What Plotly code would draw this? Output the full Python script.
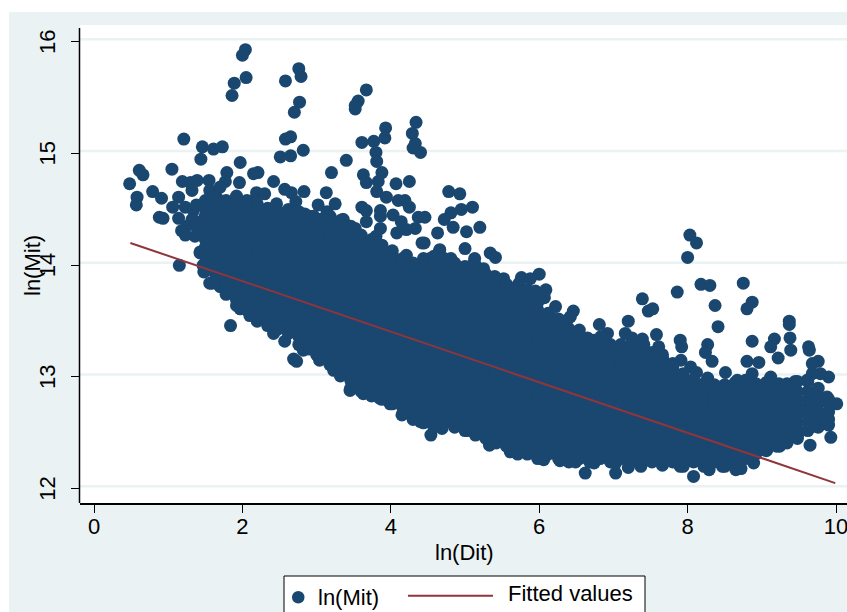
import plotly.graph_objects as go

# Scattered points
outlier_x = [2.04,2.00,1.89,2.05,1.86,2.58,2.76,2.79,2.77,2.70,3.67,3.56,3.52,3.52,4.34,3.93,4.29,3.92,3.77,3.61,4.33,4.30,4.40,3.80,3.81,3.40,
 1.21,1.46,1.61,1.73,1.44,1.97,2.58,2.65,2.82,2.51,2.65,0.48,0.61,0.66,0.58,0.57,0.79,0.91,1.05,0.88,0.93,1.19,1.30,1.39,1.55,1.79,1.96,2.15,2.21,2.42,3.20,
 2.57,2.66,2.83,2.72,3.13,3.63,3.88,3.67,3.83,4.07,4.25,3.81,3.94,4.10,4.19,4.25,3.61,3.67,3.86,3.86,4.03,4.37,3.67,3.52,3.86,3.80,4.14,4.33,4.42,3.54,4.21,3.83,3.25,3.02,3.14,3.36,3.16,
 1.15,1.14,1.06,1.14,1.25,1.18,1.23,1.36,1.43,1.32,1.23,1.48,1.59,1.70,1.47,1.88,1.84,2.69,2.73,4.15,4.40,
 4.78,4.93,5.10,4.95,4.81,4.72,4.84,4.46,5.02,5.20,4.63,5.00,4.45,4.66,4.53,5.34,5.41,5.13,4.81,6.00,5.76,5.88,5.52,5.40,6.09,5.95,6.07,5.81,6.22,5.85,6.46,6.18,6.00,6.81,6.92,6.74,7.20,7.16,7.39,7.47,7.53,7.39,7.58,7.61,7.68,
 8.03,8.12,8.00,7.86,8.18,8.30,8.75,8.87,8.80,8.37,8.41,7.90,7.92,8.27,8.24,8.33,7.91,8.04,8.12,8.51,8.87,9.17,9.12,9.22,8.80,8.96,9.37,9.37,9.38,9.39,9.63,9.64,9.76,9.68,9.90,9.45,10.01,9.89,9.90,9.93,9.65,9.24,
 6.62,7.03,8.08,5.33,5.61,5.71,6.06,6.28,6.49,6.74,7.20,7.37,7.66,8.29,8.65,8.72,4.54,4.69]
outlier_y = [15.93,15.88,15.63,15.68,15.52,15.65,15.76,15.69,15.46,15.37,15.57,15.47,15.43,15.40,15.28,15.23,15.18,15.14,15.11,15.10,15.09,15.05,15.01,15.01,14.93,14.94,
 15.13,15.06,15.04,15.06,14.95,14.92,15.13,15.15,15.03,14.97,14.98,14.73,14.85,14.81,14.61,14.54,14.66,14.60,14.86,14.43,14.42,14.75,14.74,14.76,14.76,14.83,14.74,14.82,14.83,14.75,14.83,
 14.68,14.65,14.66,14.57,14.65,14.81,14.83,14.74,14.75,14.73,14.75,14.66,14.61,14.58,14.58,14.52,14.52,14.49,14.49,14.44,14.45,14.43,14.39,14.33,14.33,14.26,14.39,14.33,14.20,14.21,14.09,14.15,14.55,14.54,14.48,14.41,14.38,
 14.00,14.61,14.52,14.42,14.35,14.31,14.27,14.26,14.12,14.67,14.52,13.94,13.84,13.81,14.00,13.87,13.46,13.16,13.14,12.66,12.60,
 14.66,14.64,14.52,14.50,14.47,14.41,14.34,14.43,14.30,14.34,14.29,14.15,14.20,14.14,14.06,14.11,14.07,14.06,14.06,13.92,13.89,13.88,13.88,13.90,13.78,13.77,13.71,13.70,13.63,13.53,13.59,13.52,13.44,13.47,13.39,13.33,13.50,13.39,13.70,13.59,13.61,13.34,13.38,13.27,13.14,
 14.27,14.20,14.07,13.76,13.83,13.82,13.84,13.67,13.61,13.64,13.45,13.33,13.27,13.29,13.22,13.14,13.15,13.09,13.04,13.04,13.32,13.34,13.27,13.17,13.14,13.13,13.50,13.47,13.35,13.24,13.27,13.24,13.14,13.12,13.00,12.96,12.76,12.67,12.57,12.46,12.39,12.38,
 12.14,12.14,12.11,12.39,12.33,12.31,12.26,12.25,12.24,12.23,12.19,12.20,12.21,12.17,12.17,12.18,12.48,12.54]

# Points along the rough edge of the dense band
edge_x = [1.56,1.65,1.90,1.77,1.70,2.19,2.30,2.15,2.46,2.54,2.73,2.84,2.96,3.05,3.23,3.35,1.38,1.52,1.43,1.61,1.34,1.38,1.52,1.43,1.32,1.52,
 3.67,4.08,4.21,4.15,4.39,4.65,4.90,5.01,5.12,5.25,5.23,5.44,5.17,5.57,5.66,5.73,5.59,5.70,5.79,6.02,6.09,6.15,6.24,6.38,6.42,6.54,6.65,6.83,6.89,6.96,7.14,7.25,7.41,7.59,7.79,7.93,8.27,8.35,8.67,8.87,9.12,9.23,9.79,9.68,9.61,9.88,9.70,9.48,9.16,
 5.03,5.19,5.48,5.91,7.03,7.90,8.47,8.89,9.07,
 1.56,1.70,1.92,1.97,2.10,2.30,2.42,2.57,2.82,3.00,3.23,3.45,3.63,3.85,3.99,4.26]
edge_y = [14.67,14.61,14.58,14.75,14.70,14.65,14.64,14.58,14.55,14.46,14.45,14.46,14.44,14.41,14.38,14.41,14.54,14.58,14.39,14.46,14.49,14.35,14.23,14.11,14.41,14.32,
 14.11,14.29,14.32,14.05,13.99,14.12,13.94,13.90,14.02,13.97,13.88,13.87,13.73,13.62,13.75,13.84,13.57,13.59,13.48,13.45,13.51,13.39,13.30,13.51,13.54,13.42,13.35,13.36,13.23,13.23,13.20,13.35,13.29,13.18,12.97,12.93,12.99,12.91,12.97,13.03,13.00,12.94,13.03,13.03,12.97,12.82,12.56,12.47,12.40,
 12.52,12.50,12.44,12.32,12.23,12.20,12.20,12.23,12.35,
 13.84,13.81,13.69,13.61,13.55,13.58,13.39,13.32,13.24,13.20,13.06,12.88,12.85,12.81,12.76,12.67]

# Dense band
band_x = [1.50,1.64,1.78,1.92,2.06,2.20,2.34,2.48,2.62,2.76,2.90,3.04,3.18,3.32,3.46,3.60,3.74,3.88,4.02,4.16,4.30,4.44,4.58,4.72,4.86,5.00,5.14,5.28,5.42,5.56,5.70,5.84,5.98,6.12,6.26,6.40,6.54,6.68,6.82,6.96,7.10,7.24,7.38,7.52,7.66,7.80,7.94,8.08,8.22,8.36,8.50,8.64,8.78,8.92,9.06,9.20,9.34,9.48,9.62,9.76,9.90]
band_y = [
 [13.95,14.02,14.09,14.16,14.23,14.30,14.37,14.44,14.51,14.58],
 [13.85,13.92,13.99,14.06,14.13,14.20,14.27,14.34,14.41,14.48,14.55,14.60],
 [13.74,13.81,13.88,13.95,14.02,14.09,14.16,14.23,14.30,14.37,14.44,14.51,14.58],
 [13.64,13.71,13.78,13.85,13.92,13.99,14.06,14.13,14.20,14.27,14.34,14.41,14.48,14.55,14.62],
 [13.60,13.67,13.74,13.81,13.88,13.95,14.02,14.09,14.16,14.23,14.30,14.37,14.44,14.51,14.58],
 [13.50,13.57,13.64,13.71,13.78,13.85,13.92,13.99,14.06,14.13,14.20,14.27,14.34,14.41,14.48,14.55],
 [13.46,13.53,13.60,13.67,13.74,13.81,13.88,13.95,14.02,14.09,14.16,14.23,14.30,14.37,14.44,14.51],
 [13.43,13.50,13.57,13.64,13.71,13.78,13.85,13.92,13.99,14.06,14.13,14.20,14.27,14.34,14.41,14.48],
 [13.39,13.46,13.53,13.60,13.67,13.74,13.81,13.88,13.95,14.02,14.09,14.16,14.23,14.30,14.37,14.44,14.50],
 [13.29,13.36,13.43,13.50,13.57,13.64,13.71,13.78,13.85,13.92,13.99,14.06,14.13,14.20,14.27,14.34,14.41,14.48],
 [13.25,13.32,13.39,13.46,13.53,13.60,13.67,13.74,13.81,13.88,13.95,14.02,14.09,14.16,14.23,14.30,14.37,14.44],
 [13.15,13.22,13.29,13.36,13.43,13.50,13.57,13.64,13.71,13.78,13.85,13.92,13.99,14.06,14.13,14.20,14.27,14.34,14.41],
 [13.11,13.18,13.25,13.32,13.39,13.46,13.53,13.60,13.67,13.74,13.81,13.88,13.95,14.02,14.09,14.16,14.23,14.30,14.37,14.44],
 [13.01,13.08,13.15,13.22,13.29,13.36,13.43,13.50,13.57,13.64,13.71,13.78,13.85,13.92,13.99,14.06,14.13,14.20,14.27,14.34,14.40],
 [12.90,12.97,13.04,13.11,13.18,13.25,13.32,13.39,13.46,13.53,13.60,13.67,13.74,13.81,13.88,13.95,14.02,14.09,14.16,14.23,14.30,14.35],
 [12.87,12.94,13.01,13.08,13.15,13.22,13.29,13.36,13.43,13.50,13.57,13.64,13.71,13.78,13.85,13.92,13.99,14.06,14.13,14.20,14.27],
 [12.83,12.90,12.97,13.04,13.11,13.18,13.25,13.32,13.39,13.46,13.53,13.60,13.67,13.74,13.81,13.88,13.95,14.02,14.09,14.16,14.23],
 [12.80,12.87,12.94,13.01,13.08,13.15,13.22,13.29,13.36,13.43,13.50,13.57,13.64,13.71,13.78,13.85,13.92,13.99,14.06,14.13,14.18],
 [12.76,12.83,12.90,12.97,13.04,13.11,13.18,13.25,13.32,13.39,13.46,13.53,13.60,13.67,13.74,13.81,13.88,13.95,14.02,14.09,14.13],
 [12.73,12.80,12.87,12.94,13.01,13.08,13.15,13.22,13.29,13.36,13.43,13.50,13.57,13.64,13.71,13.78,13.85,13.92,13.99,14.06],
 [12.62,12.69,12.76,12.83,12.90,12.97,13.04,13.11,13.18,13.25,13.32,13.39,13.46,13.53,13.60,13.67,13.74,13.81,13.88,13.95,14.02],
 [12.59,12.66,12.73,12.80,12.87,12.94,13.01,13.08,13.15,13.22,13.29,13.36,13.43,13.50,13.57,13.64,13.71,13.78,13.85,13.92,13.99,14.06],
 [12.55,12.62,12.69,12.76,12.83,12.90,12.97,13.04,13.11,13.18,13.25,13.32,13.39,13.46,13.53,13.60,13.67,13.74,13.81,13.88,13.95,14.02,14.08],
 [12.59,12.66,12.73,12.80,12.87,12.94,13.01,13.08,13.15,13.22,13.29,13.36,13.43,13.50,13.57,13.64,13.71,13.78,13.85,13.92,13.99,14.06],
 [12.55,12.62,12.69,12.76,12.83,12.90,12.97,13.04,13.11,13.18,13.25,13.32,13.39,13.46,13.53,13.60,13.67,13.74,13.81,13.88,13.95,14.02],
 [12.52,12.59,12.66,12.73,12.80,12.87,12.94,13.01,13.08,13.15,13.22,13.29,13.36,13.43,13.50,13.57,13.64,13.71,13.78,13.85,13.92,13.99],
 [12.48,12.55,12.62,12.69,12.76,12.83,12.90,12.97,13.04,13.11,13.18,13.25,13.32,13.39,13.46,13.53,13.60,13.67,13.74,13.81,13.88,13.95,14.00],
 [12.45,12.52,12.59,12.66,12.73,12.80,12.87,12.94,13.01,13.08,13.15,13.22,13.29,13.36,13.43,13.50,13.57,13.64,13.71,13.78,13.85,13.92],
 [12.41,12.48,12.55,12.62,12.69,12.76,12.83,12.90,12.97,13.04,13.11,13.18,13.25,13.32,13.39,13.46,13.53,13.60,13.67,13.74,13.81,13.88],
 [12.38,12.45,12.52,12.59,12.66,12.73,12.80,12.87,12.94,13.01,13.08,13.15,13.22,13.29,13.36,13.43,13.50,13.57,13.64,13.71,13.78,13.83],
 [12.34,12.41,12.48,12.55,12.62,12.69,12.76,12.83,12.90,12.97,13.04,13.11,13.18,13.25,13.32,13.39,13.46,13.53,13.60,13.67,13.74,13.81],
 [12.31,12.38,12.45,12.52,12.59,12.66,12.73,12.80,12.87,12.94,13.01,13.08,13.15,13.22,13.29,13.36,13.43,13.50,13.57,13.64,13.71,13.78],
 [12.27,12.34,12.41,12.48,12.55,12.62,12.69,12.76,12.83,12.90,12.97,13.04,13.11,13.18,13.25,13.32,13.39,13.46,13.53,13.60,13.67],
 [12.31,12.38,12.45,12.52,12.59,12.66,12.73,12.80,12.87,12.94,13.01,13.08,13.15,13.22,13.29,13.36,13.43,13.50,13.57],
 [12.27,12.34,12.41,12.48,12.55,12.62,12.69,12.76,12.83,12.90,12.97,13.04,13.11,13.18,13.25,13.32,13.39,13.46,13.52],
 [12.24,12.31,12.38,12.45,12.52,12.59,12.66,12.73,12.80,12.87,12.94,13.01,13.08,13.15,13.22,13.29,13.36,13.43],
 [12.27,12.34,12.41,12.48,12.55,12.62,12.69,12.76,12.83,12.90,12.97,13.04,13.11,13.18,13.25,13.32,13.37],
 [12.24,12.31,12.38,12.45,12.52,12.59,12.66,12.73,12.80,12.87,12.94,13.01,13.08,13.15,13.22,13.29],
 [12.27,12.34,12.41,12.48,12.55,12.62,12.69,12.76,12.83,12.90,12.97,13.04,13.11,13.18,13.25,13.29],
 [12.24,12.31,12.38,12.45,12.52,12.59,12.66,12.73,12.80,12.87,12.94,13.01,13.08,13.15,13.22,13.29],
 [12.27,12.34,12.41,12.48,12.55,12.62,12.69,12.76,12.83,12.90,12.97,13.04,13.11,13.18,13.25,13.29],
 [12.24,12.31,12.38,12.45,12.52,12.59,12.66,12.73,12.80,12.87,12.94,13.01,13.08,13.15,13.22,13.29],
 [12.27,12.34,12.41,12.48,12.55,12.62,12.69,12.76,12.83,12.90,12.97,13.04,13.11,13.18,13.25,13.29],
 [12.24,12.31,12.38,12.45,12.52,12.59,12.66,12.73,12.80,12.87,12.94,13.01,13.08,13.15,13.22],
 [12.27,12.34,12.41,12.48,12.55,12.62,12.69,12.76,12.83,12.90,12.97,13.04,13.11,13.18,13.20],
 [12.24,12.31,12.38,12.45,12.52,12.59,12.66,12.73,12.80,12.87,12.94,13.01,13.08,13.12],
 [12.20,12.27,12.34,12.41,12.48,12.55,12.62,12.69,12.76,12.83,12.90,12.97,13.03],
 [12.24,12.31,12.38,12.45,12.52,12.59,12.66,12.73,12.80,12.87,12.94,12.98],
 [12.20,12.27,12.34,12.41,12.48,12.55,12.62,12.69,12.76,12.83,12.90,12.94],
 [12.24,12.31,12.38,12.45,12.52,12.59,12.66,12.73,12.80,12.87,12.93],
 [12.20,12.27,12.34,12.41,12.48,12.55,12.62,12.69,12.76,12.83,12.90,12.93],
 [12.24,12.31,12.38,12.45,12.52,12.59,12.66,12.73,12.80,12.87,12.95],
 [12.27,12.34,12.41,12.48,12.55,12.62,12.69,12.76,12.83,12.90,12.97],
 [12.31,12.38,12.45,12.52,12.59,12.66,12.73,12.80,12.87,12.94],
 [12.34,12.41,12.48,12.55,12.62,12.69,12.76,12.83,12.90,12.95],
 [12.38,12.45,12.52,12.59,12.66,12.73,12.80,12.87,12.93],
 [12.41,12.48,12.55,12.62,12.69,12.76,12.83,12.90,12.94],
 [12.45,12.52,12.59,12.66,12.73,12.80,12.87,12.96],
 [12.52,12.59,12.66,12.73,12.80,12.87,12.96],
 [12.55,12.62,12.69,12.76,12.83,12.90],
 [12.62,12.69,12.76,12.80],
]

fit_x = [0.49, 9.99]
fit_y = [14.20, 12.05]

x_ticks = [0, 2, 4, 6, 8, 10]
y_ticks = [12, 13, 14, 15, 16]

NAVY = "#1a476f"
MAROON = "#90353b"
PANEL = "#eaf2f3"
FONT = "Liberation Sans, Arial, sans-serif"
L, R, T, B = 80, 847, 25, 503

def xp(px):
    return (px - L) / (R - L)

def yp(py):
    return (B - py) / (B - T)

mit_x = list(outlier_x) + list(edge_x)
mit_y = list(outlier_y) + list(edge_y)
for cx, col in zip(band_x, band_y):
    mit_x.extend([cx] * len(col))
    mit_y.extend(col)

fig = go.Figure()
fig.add_trace(go.Scatter(x=mit_x, y=mit_y, mode="markers", name="ln(Mit)",
                         marker=dict(color=NAVY, size=13, line=dict(width=0))))
fig.add_trace(go.Scatter(x=fit_x, y=fit_y, mode="lines", name="Fitted values",
                         line=dict(color=MAROON, width=2)))

shapes = []
shapes.append(dict(type="rect", xref="paper", yref="paper", x0=xp(0), x1=xp(847), y0=yp(0), y1=yp(12),
                   fillcolor="white", line_width=0, layer="below"))
shapes.append(dict(type="rect", xref="paper", yref="paper", x0=xp(0), x1=xp(9), y0=yp(0), y1=yp(612),
                   fillcolor="white", line_width=0, layer="below"))
for v in y_ticks:
    shapes.append(dict(type="line", xref="paper", yref="y", x0=0, x1=1, y0=v + 0.023, y1=v + 0.023,
                       line=dict(color=PANEL, width=2.5), layer="below"))
shapes.append(dict(type="line", xref="paper", yref="paper", x0=xp(79.5), x1=xp(79.5), y0=yp(28), y1=yp(503),
                   line=dict(color="black", width=1.5)))
shapes.append(dict(type="rect", xref="paper", yref="paper", x0=xp(284), x1=xp(645), y0=yp(576), y1=yp(620),
                   fillcolor="white", line=dict(color="black", width=1)))
shapes.append(dict(type="circle", xref="paper", yref="paper", x0=xp(292), x1=xp(304.5), y0=yp(591), y1=yp(603.5),
                   fillcolor=NAVY, line_width=0))
shapes.append(dict(type="line", xref="paper", yref="paper", x0=xp(408), x1=xp(493), y0=yp(595.7), y1=yp(595.7),
                   line=dict(color=MAROON, width=2)))

annotations = [
    dict(text="ln(Mit)", xref="paper", yref="paper", x=xp(32), y=yp(265), textangle=-90, showarrow=False,
         xanchor="center", yanchor="middle", font=dict(family=FONT, size=22, color="black")),
    dict(text="ln(Dit)", xref="paper", yref="paper", x=xp(464.5), y=yp(552), showarrow=False,
         xanchor="center", yanchor="middle", font=dict(family=FONT, size=22, color="black")),
    dict(text="ln(Mit)", xref="paper", yref="paper", x=xp(316), y=yp(597), showarrow=False,
         xanchor="left", yanchor="middle", font=dict(family=FONT, size=22, color="black")),
    dict(text="Fitted values", xref="paper", yref="paper", x=xp(506), y=yp(593), showarrow=False,
         xanchor="left", yanchor="middle", font=dict(family=FONT, size=22, color="black")),
]

fig.update_layout(
    width=847, height=612, autosize=False,
    margin=dict(l=L, r=847 - R, t=T, b=612 - B, pad=0),
    paper_bgcolor=PANEL, plot_bgcolor="white",
    showlegend=False, shapes=shapes, annotations=annotations,
    font=dict(family=FONT, color="black"),
    xaxis=dict(range=[-0.189, 10.148], tickvals=x_ticks, ticktext=[str(v) for v in x_ticks],
               showgrid=False, zeroline=False, showline=True, linecolor="black", linewidth=1.5,
               ticks="outside", ticklen=8, tickwidth=1.3, tickcolor="black", ticklabeloverflow="allow",
               ticklabelstandoff=-5, tickfont=dict(family=FONT, size=22), automargin=False),
    yaxis=dict(range=[11.872, 16.151], tickvals=y_ticks, ticktext=[str(v) + "\u00a0" for v in y_ticks],
               showgrid=False, zeroline=False, showline=False,
               ticks="outside", ticklen=8, tickwidth=1.3, tickcolor="black", tickangle=-90,
               ticklabelstandoff=7, ticklabeloverflow="allow",
               tickfont=dict(family=FONT, size=22), automargin=False),
)

fig.write_html("out.html", config=dict(displayModeBar=False),
               post_script="document.body.style.margin='0';document.body.style.overflow='hidden';")
